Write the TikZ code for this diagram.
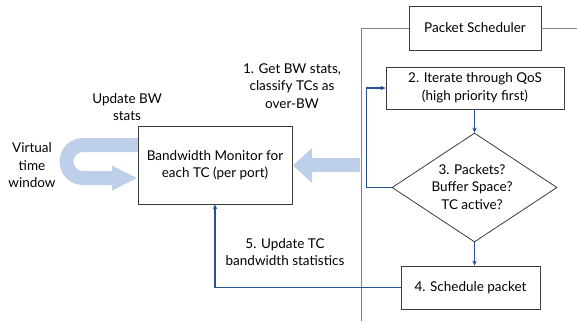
\documentclass[tikz,border=0pt]{standalone}
\usepackage{fontspec}
\setmainfont{Lato}
\usetikzlibrary{shapes.geometric,arrows.meta}
\definecolor{lblue}{RGB}{190,207,233}
\definecolor{dblue}{RGB}{40,82,152}
\definecolor{lgray}{RGB}{130,130,130}
\definecolor{bdr}{RGB}{60,60,60}
\tikzset{
  txt/.style={align=center,inner sep=0pt,font=\fontsize{13.5}{17.5}\selectfont},
  boxn/.style={draw=bdr,line width=0.8pt,fill=white,inner sep=0pt,align=center,font=\fontsize{13.5}{17.5}\selectfont},
  conn/.style={draw=dblue,line width=1.1pt,-{Stealth[length=5pt,width=4.5pt]}},
  connline/.style={draw=dblue,line width=1.1pt},
  grayline/.style={draw=lgray,line width=0.8pt},
}
\begin{document}
\begin{tikzpicture}[x=1pt,y=-1pt]
\useasboundingbox (0,0) rectangle (577,321);
% gray frame lines
\coordinate (vtop) at (361,28);
\coordinate (vbot) at (361,321);
\coordinate (hend) at (577,28);
\draw[grayline] (vbot) -- (vtop);
% big light-blue arrows
\fill[lblue] (360,158) -- (312,158) -- (312,148) -- (293,165.5) -- (312,183) -- (312,172) -- (360,172) -- cycle;
\draw[lblue,line width=14pt] (139,145) -- (83,145) arc[start angle=-90,end angle=-270,radius=16.5] -- (113,178);
\fill[lblue] (112,165.5) -- (137,178) -- (112,190.5) -- cycle;
% nodes
\node[boxn,minimum width=154pt,minimum height=78pt] (bw) at (215,165) {Bandwidth Monitor for\\each TC (per port)};
\node[boxn,minimum width=132pt,minimum height=44pt] (ps) at (475,28) {Packet Scheduler};
\node[boxn,minimum width=178pt,minimum height=42pt] (it) at (475,88) {2. Iterate through QoS\\(high priority first)};
\node[diamond,draw=bdr,line width=0.8pt,fill=white,inner sep=0pt,minimum width=165pt,minimum height=109pt] (dm) at (474.5,187.5) {};
\node[txt] (dmt) at (472,187) {3. Packets?\\Buffer Space?\\TC active?};
\node[boxn,minimum width=139pt,minimum height=43pt] (sc) at (470.5,287.5) {4. Schedule packet};
% labels
\node[txt] (l1) at (292,86) {1. Get BW stats,\\classify TCs as\\over-BW};
\node[txt] (lup) at (127,107) {Update BW\\stats};
\node[txt] (lvt) at (32,165.5) {Virtual\\time\\window};
\node[txt] (l5) at (285,252) {5. Update TC\\bandwidth statistics};
% gray connections to Packet Scheduler
\draw[grayline] (vtop) -- (ps.west);
\draw[grayline] (ps.east) -- (hend);
% connectors
\draw[conn] (it.south -| dm.north) -- (dm.north);
\draw[conn] (dm.south) -- (dm.south |- sc.north);
\draw[conn] (dm.west) -- ++(-25,0) |- (it.west);
\draw[conn] (sc.west) -| (bw.south);
\end{tikzpicture}
\end{document}
